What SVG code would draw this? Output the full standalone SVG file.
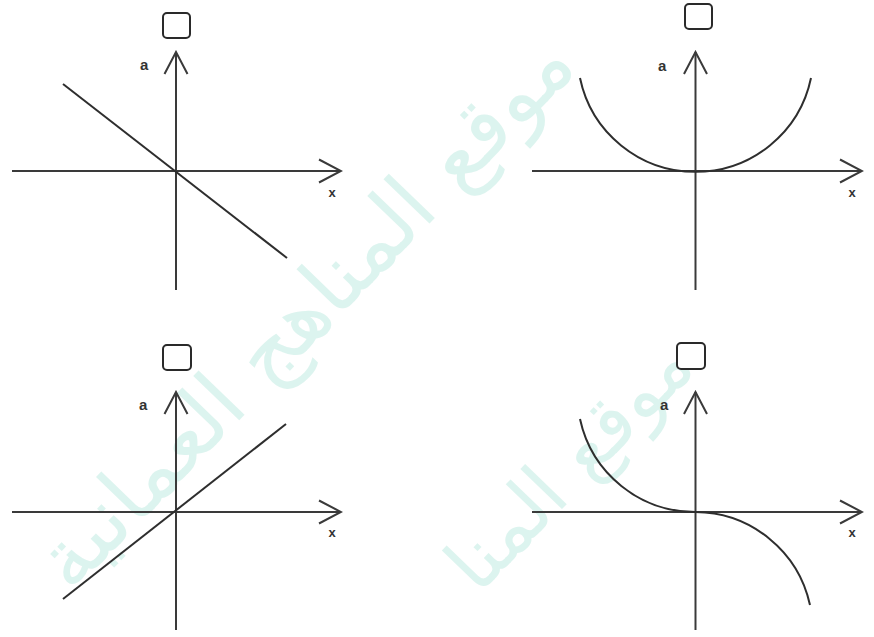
<svg xmlns="http://www.w3.org/2000/svg" width="874" height="637" viewBox="0 0 874 637">
  <style>
    .axis { stroke: #3a3a3a; stroke-width: 2; fill: none; }
    .curve { stroke: #2e2e2e; stroke-width: 2; fill: none; }
    .box { fill: #ffffff; stroke: #2a2a2a; stroke-width: 2; }
    .lbl { font-family: "Liberation Sans", Arial, sans-serif; font-weight: bold; fill: #333333; }
    .la { font-size: 15px; }
    .lx { font-size: 13px; text-anchor: middle; }
    .wm { font-family: "DejaVu Sans", sans-serif; fill: #8fdccb; opacity: 0.3; text-anchor: middle; }
  </style>
  <defs>
    <marker id="chev" viewBox="-24 -13 26 26" refX="0" refY="0" markerWidth="26" markerHeight="26" markerUnits="userSpaceOnUse" orient="auto">
      <path d="M-22,-11.5 L0,0 L-22,11.5" fill="none" stroke="#3a3a3a" stroke-width="2"/>
    </marker>
  </defs>
  <rect width="874" height="637" fill="#ffffff"/>

  <g id="watermark">
    <text class="wm" x="305" y="340" font-size="84" transform="rotate(-46 305 312)">موقع المناهج العمانية</text>
    <text class="wm" x="570" y="490" font-size="76" transform="rotate(-46 570 465)">موقع المنا</text>
  </g>

  <g id="connectors">
    <line class="axis" x1="12" y1="171" x2="341" y2="171" marker-end="url(#chev)"/>
    <line class="axis" x1="176" y1="290" x2="176" y2="52" marker-end="url(#chev)"/>
    <line class="axis" x1="532" y1="171" x2="862" y2="171" marker-end="url(#chev)"/>
    <line class="axis" x1="695.5" y1="290" x2="695.5" y2="52" marker-end="url(#chev)"/>
    <line class="axis" x1="12" y1="512" x2="341" y2="512" marker-end="url(#chev)"/>
    <line class="axis" x1="176" y1="630" x2="176" y2="392" marker-end="url(#chev)"/>
    <line class="axis" x1="532" y1="512" x2="862" y2="512" marker-end="url(#chev)"/>
    <line class="axis" x1="695.5" y1="630" x2="695.5" y2="392" marker-end="url(#chev)"/>
  </g>

  <g id="graph1">
    <rect class="box" x="163" y="13" width="27" height="25" rx="4"/>
    <text class="lbl la" x="140" y="70">a</text>
    <text class="lbl lx" x="332" y="197">x</text>
    <path class="curve" d="M63,84 L287,258"/>
  </g>

  <g id="graph2">
    <rect class="box" x="685" y="4" width="27" height="25" rx="4"/>
    <text class="lbl la" x="658" y="71">a</text>
    <text class="lbl lx" x="852" y="197">x</text>
    <path class="curve" d="M580,78 A118,118 0 0 0 811,78"/>
  </g>

  <g id="graph3">
    <rect class="box" x="163" y="345" width="28" height="25" rx="4"/>
    <text class="lbl la" x="139" y="410">a</text>
    <text class="lbl lx" x="332" y="537">x</text>
    <path class="curve" d="M63,599 L286,424"/>
  </g>

  <g id="graph4">
    <rect class="box" x="677" y="343" width="28" height="26" rx="4"/>
    <text class="lbl la" x="660" y="410">a</text>
    <text class="lbl lx" x="852" y="537">x</text>
    <path class="curve" d="M580,419 A118,118 0 0 0 695.5,512 A118,118 0 0 1 810,605"/>
  </g>
</svg>
